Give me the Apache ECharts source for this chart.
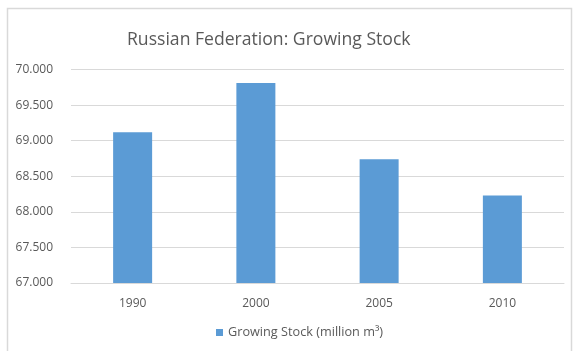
<!DOCTYPE html>
<html>
<head>
<meta charset="utf-8">
<script src="https://cdn.jsdelivr.net/npm/echarts@6/dist/echarts.min.js"></script>
<style>
html,body{margin:0;padding:0;background:#fff;}
#chart{width:573px;height:351px;}
</style>
</head>
<body>
<div id="chart"></div>
<script>
const categories = ['1990', '2000', '2005', '2010'];
const growingStock = [69.12, 69.81, 68.74, 68.23];
const seriesName = 'Growing Stock (million m³)';
const titleText = 'Russian Federation: Growing Stock';

const chart = echarts.init(document.getElementById('chart'));
const font = "'Open Sans', 'Noto Sans', sans-serif";
chart.setOption({
  animation: false,
  graphic: [{
    type: 'rect',
    shape: {x: 7.5, y: 8.5, width: 564, height: 360},
    style: {fill: 'none', stroke: '#d9d9d9', lineWidth: 1.5},
    silent: true
  }],
  title: {
    text: titleText,
    left: 122,
    top: 26,
    textStyle: {fontFamily: font, fontSize: 17.6, fontWeight: 'normal', color: '#595959'}
  },
  legend: {
    data: [seriesName],
    bottom: 7,
    left: 211,
    itemWidth: 7,
    itemHeight: 7,
    itemGap: 5,
    icon: 'rect',
    textStyle: {fontFamily: font, fontSize: 12.7, color: '#595959'}
  },
  grid: {left: 71, right: 9, top: 69.5, bottom: 68},
  xAxis: {
    type: 'category',
    data: categories,
    axisLine: {lineStyle: {color: '#d9d9d9'}},
    axisTick: {show: false},
    axisLabel: {fontFamily: font, fontSize: 12, color: '#595959', margin: 15}
  },
  yAxis: {
    type: 'value',
    min: 67,
    max: 70,
    interval: 0.5,
    axisLine: {show: false},
    axisTick: {show: false},
    splitLine: {lineStyle: {color: '#d9d9d9'}},
    axisLabel: {
      fontFamily: font, fontSize: 12, color: '#595959', margin: 18,
      formatter: v => v.toFixed(3)
    }
  },
  series: [{
    name: seriesName,
    type: 'bar',
    data: growingStock,
    barWidth: 39,
    itemStyle: {color: '#5b9bd5'}
  }]
});
</script>
</body>
</html>
